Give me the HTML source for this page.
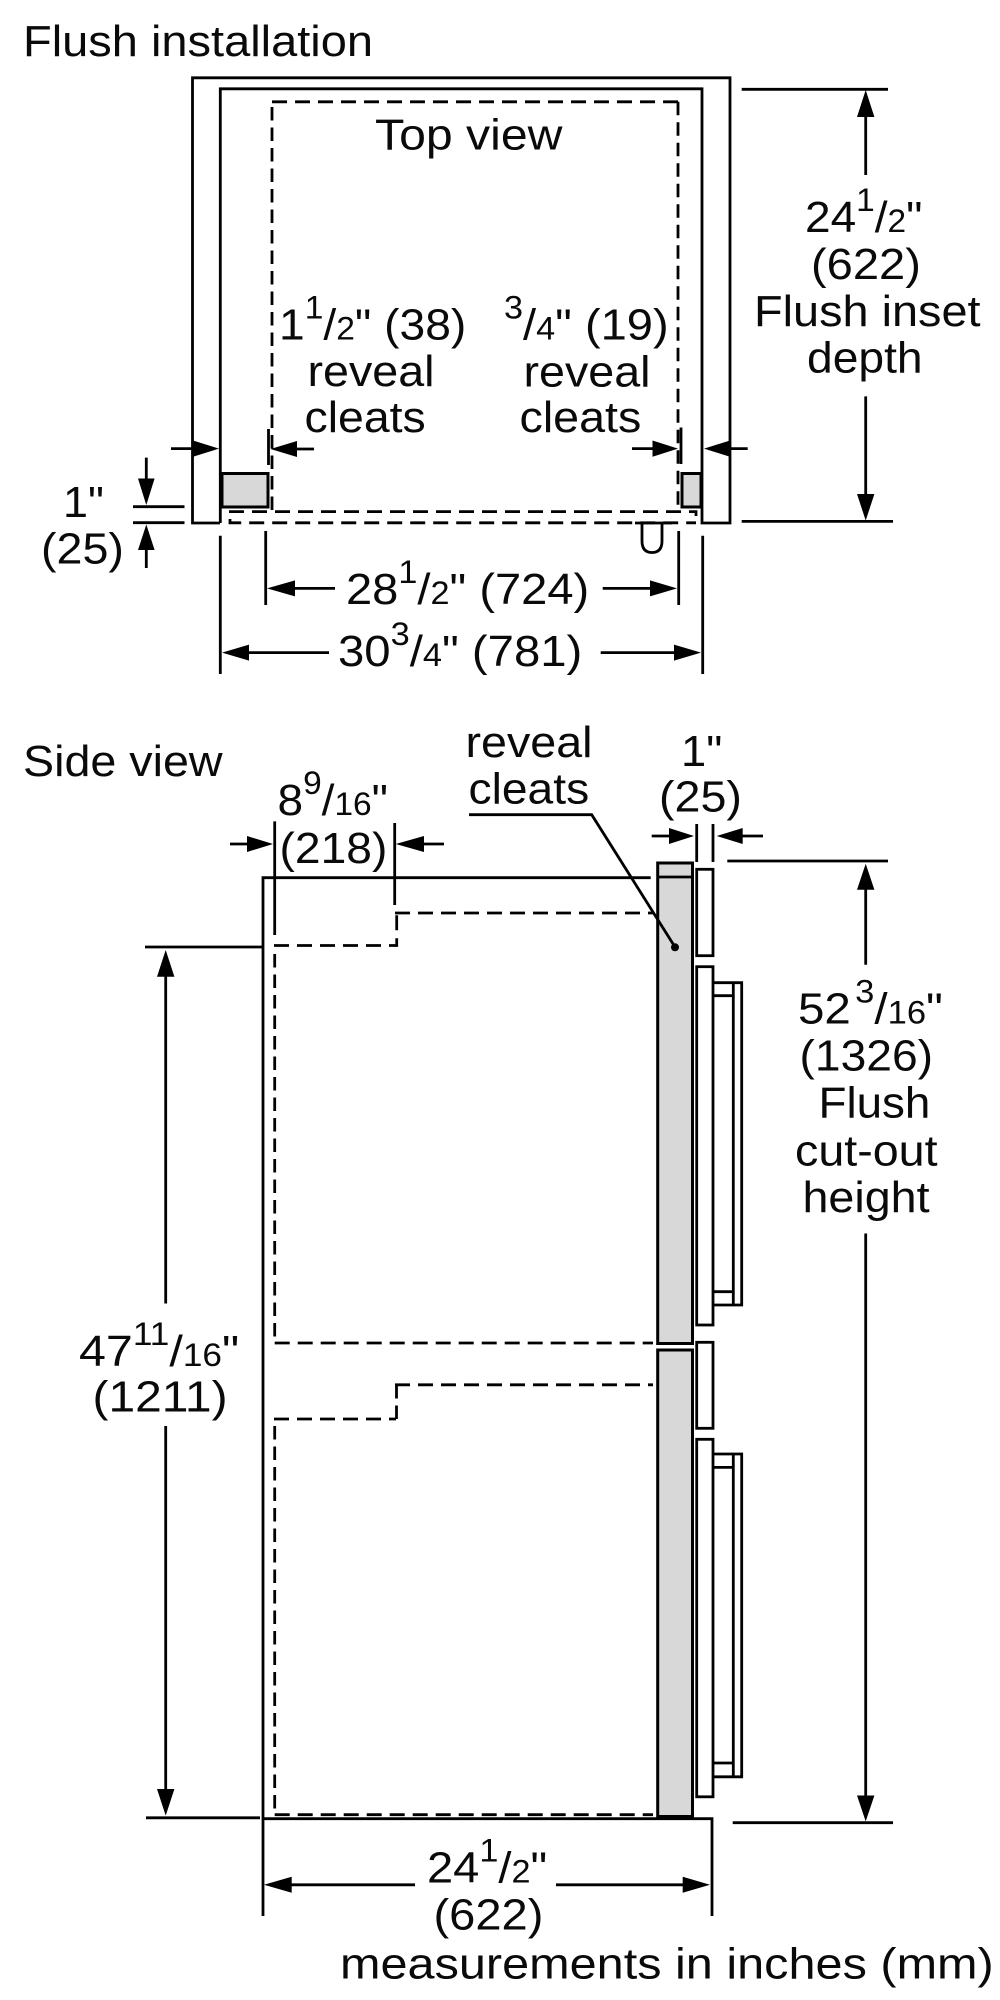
<!DOCTYPE html>
<html>
<head>
<meta charset="utf-8">
<style>
html,body{margin:0;padding:0;background:#fff;width:1000px;height:2000px;overflow:hidden}
svg{display:block}
text{font-family:"Liberation Sans",Arial,sans-serif;font-size:44px;fill:#0a0a0a}
.s{font-size:32px}
.l{fill:none;stroke:#000;stroke-width:2.8}
.h{fill:none;stroke:#000;stroke-width:2.8;stroke-dasharray:15 8}
.v{fill:none;stroke:#000;stroke-width:2.8;stroke-dasharray:13.5 7}
.g{fill:#d8d8d8;stroke:#000;stroke-width:3}
.w{fill:#fff;stroke:#000;stroke-width:2.8}
</style>
</head>
<body>
<svg width="1000" height="2000" viewBox="0 0 1000 2000" xmlns="http://www.w3.org/2000/svg">
<rect width="1000" height="2000" fill="#fff"/>

<!-- TOP VIEW -->
<path class="l" d="M220 523H192.500V77.800H730V523H702V88.800H220.300V523"/>
<path class="v" d="M272 510V101.800"/>
<path class="h" d="M272 101.800H678"/>
<path class="v" d="M678 101.800V511"/>
<path class="h" d="M229 511.600H696V516"/>
<path class="h" d="M230 519V522.800H696"/>
<rect class="g" x="222" y="473.500" width="46" height="33.500"/>
<rect class="g" x="682" y="473.500" width="19" height="33.500"/>
<path class="l" d="M268.500 429V465M681 427.500V464"/>
<path class="l" d="M635 523H672M642 523V541Q642 552.500 652 552.500Q662 552.500 662 541V523"/>

<!-- top view dims -->
<path class="l" d="M171 448.600H195M296 449H314M632 448.600H654M729 448.600H747.700"/>
<path d="M219 448.600L193 440.500V456.700Z"/>
<path d="M270.500 449L297 441V457Z"/>
<path d="M678 448.600L652.500 440.500V456.700Z"/>
<path d="M704 448.600L730 440.500V456.700Z"/>

<path class="l" d="M133 506.700H184.500M133 522.700H184.500M146.300 457.600V480M146.300 548V568"/>
<path d="M146.300 505L138 478.500H154.600Z"/>
<path d="M146.300 524.500L138 550H154.600Z"/>

<path class="l" d="M265.700 531V605M678.700 531V605M294 588.400H335M602.700 588.400H652"/>
<path d="M267 588.400L295 580.400V596.400Z"/>
<path d="M677 588.400L650 580.400V596.400Z"/>

<path class="l" d="M220.300 535.700V674M702.700 535.700V674M248 652.600H329M600.700 652.600H676"/>
<path d="M222 652.600L249 644.600V660.600Z"/>
<path d="M701 652.600L674 644.600V660.600Z"/>

<path class="l" d="M741.700 89.300H888M741.700 521.400H893M865.700 115V175M865.700 396.400V496"/>
<path d="M865.700 90L857 117H874.400Z"/>
<path d="M865.700 520.500L857 494H874.400Z"/>

<!-- SIDE VIEW -->
<path class="l" d="M650.700 877.700H263V1916"/>
<path class="l" d="M263 1818.700H712V1916"/>

<path class="h" d="M274 945.500H396.700V913"/>
<path class="h" d="M395 913H653"/>
<path class="v" d="M274.700 954V1343"/>
<path class="h" d="M274.700 1343H653"/>
<path class="h" d="M395 1384.800H653"/>
<path class="v" d="M396.500 1385V1419"/>
<path class="h" d="M274 1419H396"/>
<path class="v" d="M274.700 1426V1814.700"/>
<path class="h" d="M274.700 1814.700H653"/>

<rect class="g" x="657.700" y="863" width="34.800" height="480.500"/>
<path class="l" d="M657.700 877H692.500"/>
<rect class="g" x="657.700" y="1350" width="34.800" height="466.500"/>

<rect class="w" x="696.700" y="869.300" width="16.300" height="86.400"/>
<rect class="w" x="696.700" y="966.700" width="16.300" height="358.300"/>
<rect class="w" x="696.700" y="1342.300" width="16.300" height="86"/>
<rect class="w" x="696.700" y="1439.300" width="16.300" height="357.500"/>

<path class="l" d="M713 982.700H741.700V1305H713M733.300 982.700V1305M713 995.700H733.300M713 1291.700H734"/>
<path class="l" d="M713 1454H741.700V1776.800H713M733.300 1454V1776.800M713 1467.400H733.300M713 1763H734"/>

<path class="l" d="M469 814.700H591.700L675 947"/>
<circle cx="675" cy="947.300" r="4"/>

<path class="l" d="M651.700 836H671M741 836H763M696.700 824V862M713 824V862"/>
<path d="M694 836L669 828V844Z"/>
<path d="M716.700 836L742.700 828V844Z"/>

<path class="l" d="M230 844H249M422 844H444M274.700 821.400V935M394.700 823V905"/>
<path d="M273 844L247 836V852Z"/>
<path d="M395.700 844L424 836V852Z"/>

<path class="l" d="M145 947H263M165.700 975V1303.500M165.700 1426V1791M146 1817.800H260"/>
<path d="M165.700 950L157 976.800H174.400Z"/>
<path d="M165.700 1815.600L157 1789H174.400Z"/>

<path class="l" d="M727.300 861H888M865.700 888V964.700M865.700 1233.500V1797M732.700 1822.700H893"/>
<path d="M865.700 863.800L857 889.700H874.400Z"/>
<path d="M865.700 1821.400L857 1795.500H874.400Z"/>

<path class="l" d="M290 1884.800H415M556 1884.800H684"/>
<path d="M264 1884.800L291.700 1876.800V1892.800Z"/>
<path d="M710 1884.800L682.700 1876.800V1892.800Z"/>

<!-- LABELS -->
<text transform="translate(23 55.800) scale(1.068 1)">Flush installation</text>
<text transform="translate(375 149.500) scale(1.095 1)">Top view</text>

<text transform="translate(279 339.300) scale(1.05 1)">1<tspan class="s" dy="-21">1</tspan><tspan dy="21">/</tspan><tspan class="s">2</tspan>" (38)</text>
<text transform="translate(307.500 386) scale(1.06 1)">reveal</text>
<text transform="translate(304.500 432) scale(1.055 1)">cleats</text>

<text transform="translate(504 339.300) scale(1.07 1)"><tspan class="s" dy="-21">3</tspan><tspan dy="21">/</tspan><tspan class="s">4</tspan>" (19)</text>
<text transform="translate(523.500 386.600) scale(1.06 1)">reveal</text>
<text transform="translate(519.500 432) scale(1.06 1)">cleats</text>

<text transform="translate(805 232) scale(1.045 1)">24<tspan class="s" dy="-21">1</tspan><tspan dy="21">/</tspan><tspan class="s">2</tspan>"</text>
<text transform="translate(811 279) scale(1.07 1)">(622)</text>
<text transform="translate(754 326) scale(1.065 1)">Flush inset</text>
<text transform="translate(807 372.700) scale(1.05 1)">depth</text>

<text transform="translate(63 517) scale(1.02 1)">1"</text>
<text transform="translate(41 563.400) scale(1.06 1)">(25)</text>

<text transform="translate(346 604) scale(1.07 1)">28<tspan class="s" dy="-21">1</tspan><tspan dy="21">/</tspan><tspan class="s">2</tspan>" (724)</text>
<text transform="translate(338 666) scale(1.075 1)">30<tspan class="s" dy="-21">3</tspan><tspan dy="21">/</tspan><tspan class="s">4</tspan>" (781)</text>

<text transform="translate(23 776) scale(1.06 1)">Side view</text>
<text transform="translate(277.500 815) scale(1.045 1)">8<tspan class="s" dy="-21">9</tspan><tspan dy="21">/</tspan><tspan class="s">16</tspan>"</text>
<text transform="translate(279.500 863) scale(1.05 1)">(218)</text>

<text transform="translate(465.500 757) scale(1.06 1)">reveal</text>
<text transform="translate(468.500 803.600) scale(1.05 1)">cleats</text>

<text transform="translate(681 766) scale(1.03 1)">1"</text>
<text transform="translate(659 811.600) scale(1.06 1)">(25)</text>

<text transform="translate(79 1366) scale(1.1 1)">47<tspan class="s" dy="-21">11</tspan><tspan dy="21">/</tspan><tspan class="s">16</tspan>"</text>
<text transform="translate(92.500 1411.600) scale(1.09 1)">(1211)</text>

<text transform="translate(798 1023.600) scale(1.08 1)">52<tspan class="s" dy="-21" dx="4">3</tspan><tspan dy="21">/</tspan><tspan class="s">16</tspan>"</text>
<text transform="translate(799.500 1070.500) scale(1.05 1)">(1326)</text>
<text transform="translate(818.500 1117.400) scale(1.04 1)">Flush</text>
<text transform="translate(795 1165.600) scale(1.06 1)">cut-out</text>
<text transform="translate(802.500 1212) scale(1.06 1)">height</text>

<text transform="translate(427 1882.600) scale(1.07 1)">24<tspan class="s" dy="-21">1</tspan><tspan dy="21">/</tspan><tspan class="s">2</tspan>"</text>
<text transform="translate(433.500 1929.400) scale(1.07 1)">(622)</text>
<text transform="translate(340 1978.500) scale(1.105 1)">measurements in inches (mm)</text>
</svg>
</body>
</html>
